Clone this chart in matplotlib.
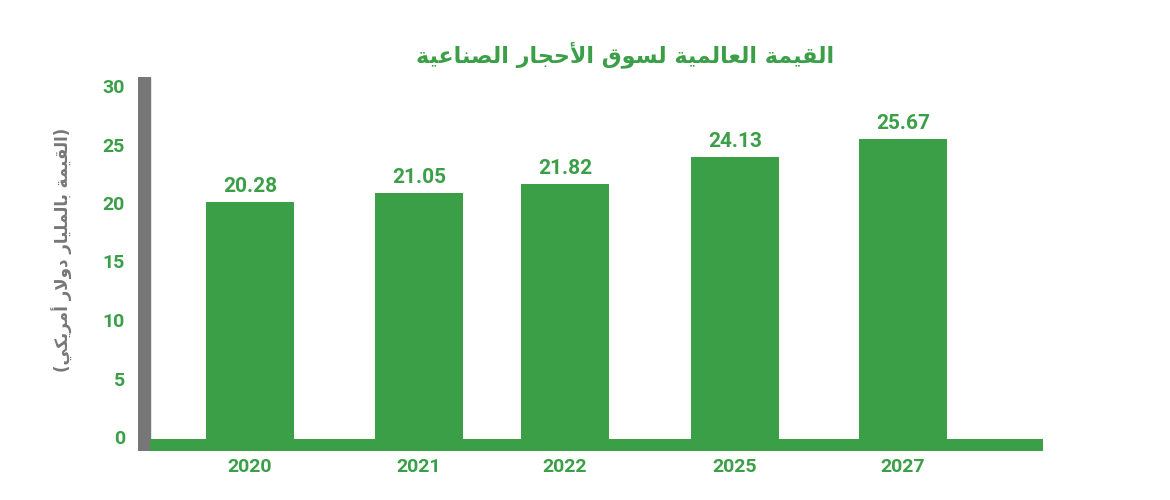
import matplotlib
matplotlib.use("Agg")
import matplotlib.pyplot as plt

years = ["2020", "2021", "2022", "2025", "2027"]
values = [20.28, 21.05, 21.82, 24.13, 25.67]
yticks = [0, 5, 10, 15, 20, 25, 30]
title_ar = "القيمة العالمية لسوق الأحجار الصناعية"
ylabel_ar = "(القيمة بالمليار دولار أمريكي)"

# ---- minimal Arabic shaper ----
FORMS = {
    'ا': (0xFE8D, 0xFE8E, None, None), 'أ': (0xFE83, 0xFE84, None, None),
    'ب': (0xFE8F, 0xFE90, 0xFE91, 0xFE92), 'ة': (0xFE93, 0xFE94, None, None),
    'ج': (0xFE9D, 0xFE9E, 0xFE9F, 0xFEA0), 'ح': (0xFEA1, 0xFEA2, 0xFEA3, 0xFEA4),
    'د': (0xFEA9, 0xFEAA, None, None), 'ر': (0xFEAD, 0xFEAE, None, None),
    'س': (0xFEB1, 0xFEB2, 0xFEB3, 0xFEB4), 'ص': (0xFEB9, 0xFEBA, 0xFEBB, 0xFEBC),
    'ع': (0xFEC9, 0xFECA, 0xFECB, 0xFECC), 'ق': (0xFED5, 0xFED6, 0xFED7, 0xFED8),
    'ك': (0xFED9, 0xFEDA, 0xFEDB, 0xFEDC), 'ل': (0xFEDD, 0xFEDE, 0xFEDF, 0xFEE0),
    'م': (0xFEE1, 0xFEE2, 0xFEE3, 0xFEE4), 'ن': (0xFEE5, 0xFEE6, 0xFEE7, 0xFEE8),
    'و': (0xFEED, 0xFEEE, None, None), 'ي': (0xFEF1, 0xFEF2, 0xFEF3, 0xFEF4),
    'ﻻ': (0xFEFB, 0xFEFC, None, None), 'ﻷ': (0xFEF7, 0xFEF8, None, None),
}

def shape(s):
    s = s.replace('لا', 'ﻻ').replace('لأ', 'ﻷ')
    out = []
    for i, c in enumerate(s):
        if c not in FORMS:
            out.append(c)
            continue
        p = s[i - 1] if i > 0 else ''
        n = s[i + 1] if i + 1 < len(s) else ''
        jp = p in FORMS and FORMS[p][2] is not None
        jn = FORMS[c][2] is not None and n in FORMS
        f = FORMS[c]
        if jp and jn:
            code = f[3]
        elif jp:
            code = f[1]
        elif jn:
            code = f[2]
        else:
            code = f[0]
        out.append(chr(code))
    vis = ''.join(reversed(out))
    return vis.translate(str.maketrans('()', ')('))

green = "#3a9f47"
gray = "#777777"
W, H = 1170, 500
fig = plt.figure(figsize=(11.7, 5), dpi=100)
L, R, T, B = 138, 1043, 77, 451
ax = fig.add_axes([L / W, 1 - B / H, (R - L) / W, (B - T) / H])
ppu = 11.7
ymin = -(B - 439) / ppu
ymax = (439 - T) / ppu
ax.set_xlim(0, R - L)
ax.set_ylim(ymin, ymax)
for s in ax.spines.values():
    s.set_visible(False)
ax.set_xticks([])
ax.set_yticks([])

centers = [112, 281, 427, 597, 765]
bw = 88
ax.bar(centers, values, width=bw, color=green, zorder=2)
ax.axvspan(0, 12, color=gray, zorder=3)
ax.fill_between([12, R - L], ymin, 0, color=green, zorder=3, lw=0)

fnt = "Roboto"
for c, v, yr in zip(centers, values, years):
    ax.text(c, v + 0.5, f"{v:.2f}", ha="center", va="bottom", color=green,
            fontsize=15, fontweight="bold", family=fnt)
    ax.text(c, ymin - 0.6, yr, ha="center", va="top", color=green,
            fontsize=14, fontweight="bold", family=fnt)
for t in yticks:
    ax.text(-13, t, str(t), ha="right", va="center", color=green,
            fontsize=14, fontweight="bold", family=fnt)

fig.text(625 / W, 1 - 55 / H, shape(title_ar), ha="center", va="center",
         color=green, fontsize=16, fontweight="bold", family="DejaVu Sans")
fig.text(62 / W, 1 - 250 / H, shape(ylabel_ar), ha="center", va="center",
         rotation=90, color=gray, fontsize=12, fontweight="bold", family="DejaVu Sans")

fig.savefig("out.png", dpi=100)
